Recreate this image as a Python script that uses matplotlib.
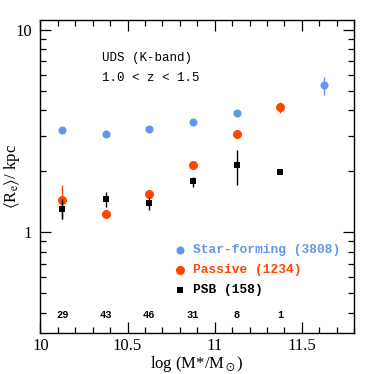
import matplotlib
matplotlib.use('Agg')
import matplotlib.pyplot as plt
from matplotlib.ticker import FixedLocator, NullFormatter, MultipleLocator

plt.rcParams['font.family'] = 'Liberation Serif'
plt.rcParams['mathtext.fontset'] = 'stix'

# mass bins
mass_bins = [10.125, 10.375, 10.625, 10.875, 11.125, 11.375, 11.625]

# star-forming
sf_mass = [10.125, 10.375, 10.625, 10.875, 11.125, 11.625]
sf_re = [3.19, 3.04, 3.23, 3.52, 3.87, 5.32]
sf_lo = [0.05, 0.05, 0.05, 0.06, 0.08, 0.55]
sf_hi = [0.05, 0.05, 0.05, 0.06, 0.08, 0.53]

# passive
pas_mass = [10.125, 10.375, 10.625, 10.875, 11.125, 11.375]
pas_re = [1.445, 1.23, 1.55, 2.14, 3.04, 4.14]
pas_lo = [0.28, 0.03, 0.04, 0.05, 0.06, 0.24]
pas_hi = [0.27, 0.03, 0.04, 0.05, 0.06, 0.24]

# post-starburst
psb_mass = [10.125, 10.375, 10.625, 10.875, 11.125, 11.375]
psb_re = [1.30, 1.46, 1.39, 1.78, 2.14, 1.99]
psb_lo = [0.14, 0.13, 0.11, 0.10, 0.43, 0.0]
psb_hi = [0.16, 0.12, 0.10, 0.10, 0.41, 0.0]

psb_counts = ['29', '43', '46', '31', '8', '1']

sf_color = '#6495ed'
pas_color = '#ff4500'

fig = plt.figure(figsize=(3.74, 3.74), dpi=100)
ax = fig.add_axes([0.108, 0.110, 0.839, 0.837])
ax.set_yscale('log')

ax.errorbar(sf_mass, sf_re, yerr=[sf_lo, sf_hi], fmt='o', color=sf_color,
            ms=5.8, mew=0, elinewidth=1, capsize=3, zorder=3)
ax.errorbar(pas_mass, pas_re, yerr=[pas_lo, pas_hi], fmt='o', color=pas_color,
            ms=6.5, mew=0, elinewidth=1, capsize=3, zorder=4)
ax.errorbar(psb_mass, psb_re, yerr=[psb_lo, psb_hi], fmt='s', color='black',
            ms=4.2, mew=0, elinewidth=1, capsize=3, zorder=5)

# number of PSB galaxies per bin
for m, n in zip(mass_bins, psb_counts):
    ax.text(m, 0.39, n, ha='center', va='center', fontsize=7.5,
            family='Liberation Mono', fontweight='bold')

ax.text(10.355, 7.27, 'UDS (K-band)', family='Liberation Mono', fontsize=9,
        va='center')
ax.text(10.355, 5.76, '1.0 < z < 1.5', family='Liberation Mono', fontsize=9,
        va='center')

# legend drawn by hand
ax.plot([10.80], [0.818], 'o', color=sf_color, ms=5.8, mew=0)
ax.text(10.875, 0.818, 'Star-forming (3808)', color=sf_color, family='Liberation Mono',
        fontsize=9.3, fontweight='bold', va='center')
ax.plot([10.80], [0.651], 'o', color=pas_color, ms=6.5, mew=0)
ax.text(10.875, 0.651, 'Passive (1234)', color=pas_color, family='Liberation Mono',
        fontsize=9.3, fontweight='bold', va='center')
ax.plot([10.80], [0.519], 's', color='black', ms=4.2, mew=0)
ax.text(10.875, 0.519, 'PSB (158)', color='black', family='Liberation Mono',
        fontsize=9.3, fontweight='bold', va='center')

ax.set_xlim(10, 11.8)
ax.set_ylim(0.318, 11.2)

ax.xaxis.set_major_locator(FixedLocator([10, 10.5, 11, 11.5]))
ax.set_xticklabels(['10', '10.5', '11', '11.5'])
ax.xaxis.set_minor_locator(MultipleLocator(0.1))
ax.yaxis.set_major_locator(FixedLocator([1, 10]))
ax.set_yticklabels(['1', '10'])
ax.yaxis.set_minor_locator(FixedLocator([0.4, 0.5, 0.6, 0.7, 0.8, 0.9,
                                         2, 3, 4, 5, 6, 7, 8, 9]))
ax.yaxis.set_minor_formatter(NullFormatter())
ax.tick_params(which='both', direction='in', top=True, right=True, labelsize=12, width=0.9)
ax.tick_params(which='major', length=8)
ax.tick_params(which='minor', length=4)
ax.tick_params(axis='y', pad=6)
for s in ax.spines.values():
    s.set_linewidth(1)

ax.set_xlabel(r'log (M*/M$_\odot$)', fontsize=12, labelpad=0)
ax.set_ylabel(r'$\langle$R$_{\rm e}\rangle$/ kpc', fontsize=12)
ax.yaxis.set_label_coords(-0.06, 0.5)

fig.savefig('out.png', dpi=100)
